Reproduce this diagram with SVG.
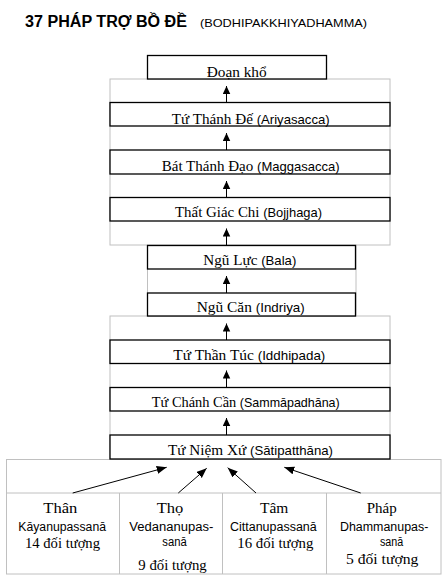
<svg xmlns="http://www.w3.org/2000/svg" width="447" height="583" viewBox="0 0 447 583">
<style>
.frame{fill:none;stroke:#c0c0c0;stroke-width:1}
.box{fill:#fff;stroke:#000;stroke-width:1.3}
.vn{font-family:"Liberation Serif","Times New Roman",serif;font-size:15px;fill:#000}
.lat{font-family:"Liberation Sans",Arial,sans-serif;font-size:13px}
.cl{font-family:"Liberation Sans",Arial,sans-serif;font-size:12.5px;fill:#000}
.conn{stroke:#000;stroke-width:1;fill:none}
</style>
<defs>
<marker id="ah" markerUnits="userSpaceOnUse" markerWidth="9" markerHeight="8" refX="8" refY="3.75" orient="auto">
<path d="M0,0 L8,3.75 L0,7.5 z" fill="#000"/>
</marker>
<marker id="ah2" markerUnits="userSpaceOnUse" markerWidth="11" markerHeight="9" refX="10" refY="4" orient="auto">
<path d="M0,0 L10,4 L0,8 z" fill="#000"/>
</marker>
</defs>
<rect width="447" height="583" fill="#fff"/>
<g id="title">
<text x="25" y="27" font-family="'Liberation Sans',Arial,sans-serif" font-weight="bold" font-size="16" textLength="162" lengthAdjust="spacingAndGlyphs">37 PHÁP TRỢ BỒ ĐỀ</text>
<text x="200" y="27" font-family="'Liberation Sans',Arial,sans-serif" font-size="11" textLength="167" lengthAdjust="spacingAndGlyphs">(BODHIPAKKHIYADHAMMA)</text>
</g>
<g id="frames">
<rect class="frame" x="110" y="79" width="280" height="166"/>
<rect class="frame" x="147.5" y="245" width="208.5" height="71"/>
<rect class="frame" x="110" y="316" width="280" height="143"/>
<rect class="frame" x="6.5" y="459.5" width="434.5" height="114.5"/>
<line class="frame" x1="6.5" y1="493" x2="441" y2="493"/>
<line class="frame" x1="119.5" y1="493" x2="119.5" y2="574"/>
<line class="frame" x1="222.5" y1="493" x2="222.5" y2="574"/>
<line class="frame" x1="326.5" y1="493" x2="326.5" y2="574"/>
</g>
<g id="n-doankho">
<rect class="box" x="147.5" y="55.5" width="179" height="23.5"/>
<text class="vn" x="206.7" y="76.5" textLength="60" lengthAdjust="spacingAndGlyphs">Đoạn khổ</text>
</g>
<g id="n-tuthanhde">
<rect class="box" x="110" y="102.5" width="280" height="23.5"/>
<text class="vn" x="171.7" y="123.5" textLength="158" lengthAdjust="spacingAndGlyphs">Tứ Thánh Đế <tspan class="lat">(Ariyasacca)</tspan></text>
</g>
<g id="n-batthanhdao">
<rect class="box" x="110" y="150" width="280" height="24"/>
<text class="vn" x="161.7" y="170.7" textLength="178" lengthAdjust="spacingAndGlyphs">Bát Thánh Đạo <tspan class="lat">(Maggasacca)</tspan></text>
</g>
<g id="n-thatgiacchi">
<rect class="box" x="110" y="197.5" width="280" height="23.5"/>
<text class="vn" x="175" y="217" textLength="147" lengthAdjust="spacingAndGlyphs">Thất Giác Chi <tspan class="lat">(Bojjhaga)</tspan></text>
</g>
<g id="n-nguluc">
<rect class="box" x="147.5" y="245.5" width="208" height="23.5"/>
<text class="vn" x="203.3" y="265" textLength="93" lengthAdjust="spacingAndGlyphs">Ngũ Lực <tspan class="lat">(Bala)</tspan></text>
</g>
<g id="n-nguan">
<rect class="box" x="147.5" y="293" width="208" height="23"/>
<text class="vn" x="196.7" y="312" textLength="108" lengthAdjust="spacingAndGlyphs">Ngũ Căn <tspan class="lat">(Indriya)</tspan></text>
</g>
<g id="n-tuthantuc">
<rect class="box" x="110" y="340" width="280" height="23.5"/>
<text class="vn" x="173.3" y="359.5" textLength="152" lengthAdjust="spacingAndGlyphs">Tứ Thần Túc <tspan class="lat">(Iddhipada)</tspan></text>
</g>
<g id="n-tuchanhcan">
<rect class="box" x="110" y="387.5" width="280" height="23.5"/>
<text class="vn" x="151.7" y="407" textLength="188" lengthAdjust="spacingAndGlyphs">Tứ Chánh Cần <tspan class="lat">(Sammāpadhāna)</tspan></text>
</g>
<g id="n-tuniemxu">
<rect class="box" x="110" y="435" width="280" height="24"/>
<text class="vn" x="168" y="454.5" textLength="165" lengthAdjust="spacingAndGlyphs">Tứ Niệm Xứ <tspan class="lat">(Sātipatthāna)</tspan></text>
</g>
<g id="n-than">
<text class="vn" x="43.3" y="512.7" font-size="16" textLength="34" lengthAdjust="spacingAndGlyphs">Thân</text>
<text class="cl" x="18.3" y="530.7" textLength="87.7" lengthAdjust="spacingAndGlyphs">Kāyanupassanā</text>
<text class="vn" x="25" y="548.3" font-size="16" textLength="75" lengthAdjust="spacingAndGlyphs">14 đối tượng</text>
</g>
<g id="n-tho">
<text class="vn" x="156.7" y="512.7" font-size="16" textLength="26.6" lengthAdjust="spacingAndGlyphs">Thọ</text>
<text class="cl" x="129.3" y="530.7" textLength="84" lengthAdjust="spacingAndGlyphs">Vedananupas-</text>
<text class="cl" x="162.3" y="546" textLength="24.4" lengthAdjust="spacingAndGlyphs">sanā</text>
<text class="vn" x="138.3" y="570" font-size="16" textLength="68.4" lengthAdjust="spacingAndGlyphs">9 đối tượng</text>
</g>
<g id="n-tam">
<text class="vn" x="260" y="512.7" font-size="16" textLength="28.3" lengthAdjust="spacingAndGlyphs">Tâm</text>
<text class="cl" x="230" y="530.7" textLength="86.7" lengthAdjust="spacingAndGlyphs">Cittanupassanā</text>
<text class="vn" x="237.3" y="548.3" font-size="16" textLength="76" lengthAdjust="spacingAndGlyphs">16 đối tượng</text>
</g>
<g id="n-phap">
<text class="vn" x="366.7" y="512.7" font-size="16" textLength="30" lengthAdjust="spacingAndGlyphs">Pháp</text>
<text class="cl" x="340" y="530.7" textLength="88.3" lengthAdjust="spacingAndGlyphs">Dhammanupas-</text>
<text class="cl" x="380" y="546" textLength="23.3" lengthAdjust="spacingAndGlyphs">sanā</text>
<text class="vn" x="346" y="563.5" font-size="16" textLength="72.3" lengthAdjust="spacingAndGlyphs">5 đối tượng</text>
</g>
<g id="connectors">
<line class="conn" x1="226.5" y1="102.5" x2="226.5" y2="86" marker-end="url(#ah)"/>
<line class="conn" x1="226.5" y1="150" x2="226.5" y2="133" marker-end="url(#ah)"/>
<line class="conn" x1="226.5" y1="197.5" x2="226.5" y2="181" marker-end="url(#ah)"/>
<line class="conn" x1="226.5" y1="245.5" x2="226.5" y2="228.5" marker-end="url(#ah)"/>
<line class="conn" x1="226.5" y1="293" x2="226.5" y2="276" marker-end="url(#ah)"/>
<line class="conn" x1="226.5" y1="340" x2="226.5" y2="323.5" marker-end="url(#ah)"/>
<line class="conn" x1="226.5" y1="387.5" x2="226.5" y2="370.5" marker-end="url(#ah)"/>
<line class="conn" x1="226.5" y1="435" x2="226.5" y2="418" marker-end="url(#ah)"/>
<line class="conn" x1="72.7" y1="493" x2="166.7" y2="467.3" marker-end="url(#ah2)"/>
<line class="conn" x1="178.3" y1="493" x2="206.7" y2="468.3" marker-end="url(#ah2)"/>
<line class="conn" x1="256" y1="493" x2="227.7" y2="467.7" marker-end="url(#ah2)"/>
<line class="conn" x1="360.7" y1="493" x2="284.3" y2="467.3" marker-end="url(#ah2)"/>
</g>
</svg>
